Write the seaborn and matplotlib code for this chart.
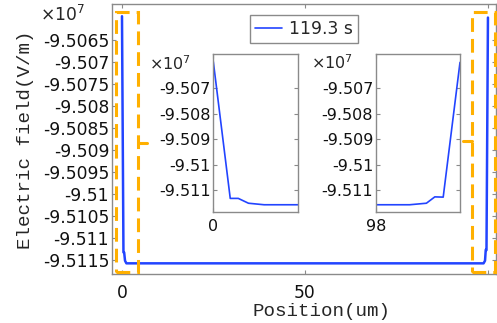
import numpy as np
import pandas as pd
import matplotlib
matplotlib.use("Agg")
import matplotlib.pyplot as plt
from matplotlib.patches import Rectangle
from matplotlib.ticker import FuncFormatter
import seaborn as sns

# ---- data (electric field in units of 1e7 V/m) ----
position = [0.0, 0.4, 0.59, 0.83, 1.2, 50.0, 98.0, 98.8, 99.2, 99.4, 99.6, 100.0]
field = [-9.50595, -9.51133, -9.51133, -9.51152, -9.51158, -9.51158,
         -9.51158, -9.51158, -9.51152, -9.51127, -9.51128, -9.50598]
series_label = "119.3 s"
main_yticks = [-9.5065, -9.507, -9.5075, -9.508, -9.5085, -9.509,
               -9.5095, -9.51, -9.5105, -9.511, -9.5115]
main_xticks = [0, 50, 100]
main_xticklabels = ["0", "50", ""]
inset_yticks = [-9.507, -9.508, -9.509, -9.51, -9.511]
inset_left_xlim = (0, 2)
inset_right_xlim = (98, 100)
zoom_left = (-1.6, 4.4)
zoom_right = (95.6, 101.8)
zoom_y = (-9.51178, -9.50585)

df = pd.DataFrame({"Position": position, "Field": field, "t": series_label})

sns.set_theme(style="white")
plt.rcParams["font.family"] = ["DejaVu Sans"]

W, H = 497, 323
fig = plt.figure(figsize=(W / 100, H / 100), dpi=100)

BLUE = "#2244ff"
ORANGE = "#ffb000"
GRAY = "#8a8a8a"

def style_axes(ax, fs):
    for s in ax.spines.values():
        s.set_color(GRAY)
        s.set_linewidth(1.0)
    ax.tick_params(direction="in", length=3, width=0.8, color=GRAY,
                   top=True, right=True, bottom=True, left=True,
                   labelsize=fs, labelcolor="#111111", pad=2)

fmt = FuncFormatter(lambda v, p: "{:.5g}".format(v))

# main axes
ax = fig.add_axes([112 / W, 1 - 274 / H, (496 - 112) / W, (274 - 4) / H])
sns.lineplot(data=df, x="Position", y="Field", hue="t", palette=[BLUE],
             linewidth=1.8, ax=ax, estimator=None, sort=False)
ax.set_xlim(-2.73, 102.2)
ax.set_ylim(-9.511823, -9.505671)
ax.set_xticks(main_xticks)
ax.set_xticklabels(main_xticklabels)
ax.set_yticks(main_yticks)
ax.yaxis.set_major_formatter(fmt)
style_axes(ax, 12.3)
ax.tick_params(axis="x", pad=7)
ax.set_xlabel("Position(um)", family=["Liberation Mono"], fontsize=13.8)
ax.set_ylabel("Electric field(V/m)", family=["Liberation Mono"], fontsize=13.8)
ax.xaxis.label.set_va("center")
ax.xaxis.set_label_coords((322 - 112) / 384, -(311 - 274) / 270)
ax.yaxis.label.set_va("center")
ax.yaxis.set_label_coords(-(112 - 26) / 384, (274 - 140) / 270)
leg = ax.legend(loc="upper center", bbox_to_anchor=(0.5, 0.99), fontsize=12.3,
                frameon=True, fancybox=False, edgecolor=GRAY, framealpha=1,
                handlelength=1.6, handletextpad=0.4, borderpad=0.3)
leg.get_frame().set_linewidth(1.0)
for line in leg.get_lines():
    line.set_linewidth(1.2)

# zoom rectangles
for (x0, x1) in (zoom_left, zoom_right):
    ax.add_patch(Rectangle((x0, zoom_y[0]), x1 - x0, zoom_y[1] - zoom_y[0],
                           fill=False, edgecolor=ORANGE, linewidth=2.2,
                           linestyle=(0, (4.5, 2.3)), zorder=4, clip_on=False))
ax.plot([zoom_left[1], zoom_left[1] + 2.4], [-9.50884, -9.50884], color=ORANGE, lw=2.2)
ax.plot([zoom_right[0] - 2.4, zoom_right[0]], [-9.50880, -9.50880], color=ORANGE, lw=2.2)

fig.text(40 / W, 1 - 15 / H, r"$\times10^7$", fontsize=12.3, ha="left", va="center")

# insets
def make_inset(left, right, xlim, xtick):
    ia = fig.add_axes([left / W, 1 - 212 / H, (right - left) / W, (212 - 54) / H])
    sns.lineplot(data=df, x="Position", y="Field", color=BLUE, linewidth=1.2,
                 ax=ia, estimator=None, sort=False, legend=False)
    ia.set_xlim(*xlim)
    ia.set_ylim(-9.511865, -9.50565)
    ia.set_xticks([xtick])
    ia.set_xticklabels([str(xtick)])
    ia.set_yticks(inset_yticks)
    ia.yaxis.set_major_formatter(fmt)
    ia.set_xlabel("")
    ia.set_ylabel("")
    style_axes(ia, 11.5)
    ia.tick_params(axis="x", pad=5)
    return ia

make_inset(213.3, 298, inset_left_xlim, 0)
make_inset(376, 460, inset_right_xlim, 98)
fig.text(149 / W, 1 - 64 / H, r"$\times10^7$", fontsize=11.5, ha="left", va="center")
fig.text(311 / W, 1 - 63 / H, r"$\times10^7$", fontsize=11.5, ha="left", va="center")

fig.savefig("out.png", dpi=100, facecolor="white")
